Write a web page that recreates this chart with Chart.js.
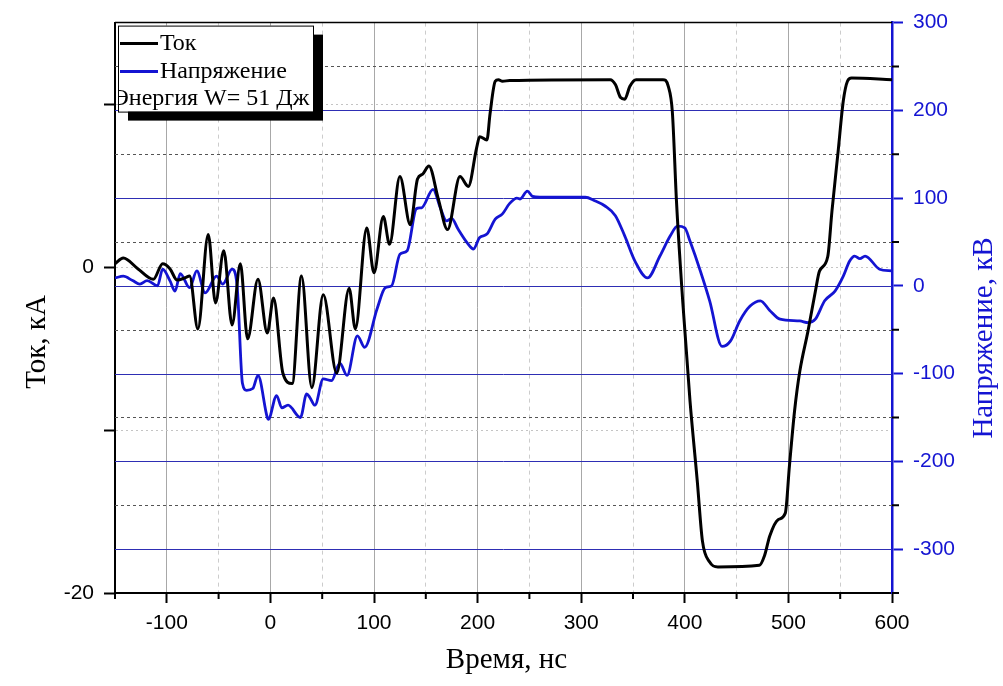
<!DOCTYPE html>
<html>
<head>
<meta charset="utf-8">
<script src="https://cdn.jsdelivr.net/npm/chart.js@4/dist/chart.umd.min.js"></script>
<style>
  html, body { margin: 0; padding: 0; background: #fff; }
  #wrap { width: 1003px; height: 686px; }
</style>
</head>
<body>
<div id="wrap"><canvas id="myChart" width="1003" height="686"></canvas></div>
<script>
// time, ns
const timeCurrent = [-150,-142,-128,-113,-104,-97,-90,-82,-78,-70,-60,-53,-45,-37,-29,-22,-12,-3,3,12,21,30,40,51,64,76,82,93,100,109,115,125,135,142,147,153,162,171,183,191,199,202,209,212,217,220,224,231,328,333,338,342,347,353,379,384,388,392,398,405,412,417,424,432,472,477,482,490,497,501,506,511,519,526,530,538,542,548,553,557,561,600];
// current, kA
const current = [0.2,0.55,-0.1,-0.75,0.2,-0.1,-0.8,-0.65,-0.55,-3.8,2.0,-2.2,1.0,-3.55,0.2,-4.4,-0.75,-4.05,-1.9,-6.5,-7.15,-0.55,-7.4,-1.7,-6.5,-1.3,-3.8,2.4,-0.35,3.1,1.4,5.55,2.6,5.4,5.7,6.2,4.2,2.3,5.55,4.95,7.3,8.0,7.8,9.4,11.4,11.5,11.4,11.45,11.5,11.2,10.4,10.3,11.1,11.5,11.5,11.1,9.5,4.0,-2.1,-8.2,-13.1,-16.8,-18.1,-18.4,-18.3,-17.7,-16.5,-15.5,-15.1,-12.2,-8.8,-6.4,-3.9,-1.5,-0.25,0.65,3.4,7.1,10.2,11.4,11.6,11.5];

const timeVoltage = [-150,-142,-133,-126,-119,-109,-104,-97,-92,-87,-78,-71,-63,-52,-46,-37,-32,-27,-23,-17,-12,-3,-2,6,11,17,29,35,38,43,51,59,67,74,84,91,103,111,117,125,132,141,146,157,164,170,175,181,190,196,202,209,217,224,231,238,241,248,253,260,304,313,323,333,342,352,364,376,386,393,400,405,415,424,436,444,453,463,473,482,492,511,519,526,535,545,553,559,564,569,574,588,600];
// voltage, kV
const voltage = [9,11,6,2,6,0,19,6,-6,14,-2,17,-8,11,2,19,-2,-111,-119,-117,-102,-150,-152,-125,-139,-136,-150,-123,-127,-136,-106,-108,-88,-102,-57,-70,-26,-2,0,36,40,88,89,110,89,74,77,65,49,42,55,59,76,82,94,100,99,108,102,101,101,97,91,80,57,28,9,34,57,68,66,51,17,-17,-69,-63,-40,-23,-17,-28,-38,-40,-42,-38,-17,-6,11,28,34,31,34,19,17];

const xTicks = [-150,-100,-50,0,50,100,150,200,250,300,350,400,450,500,550,600];
const xLabels = [-100,0,100,200,300,400,500,600];
const leftTicks = [-20,-10,0,10];
const leftLabels = [0,-20];
const rightTicks = [-350,-300,-250,-200,-150,-100,-50,0,50,100,150,200,250,300];
const rightLabels = [-300,-200,-100,0,100,200,300];

const seriesNames = ['Ток', 'Напряжение'];
const energyText = 'Энергия W= 51 Дж';
const titleX = 'Время, нс';
const titleLeft = 'Ток, кА';
const titleRight = 'Напряжение, кВ';

const BLUE = '#1414d2';
const tickFont = { family: '"Liberation Sans", Arial, sans-serif', size: 21 };
const serif = '"Liberation Serif", "Times New Roman", serif';

function toPoints(xs, ys) {
    return xs.map((x, i) => ({ x: x, y: ys[i] }));
}

function setTicks(list) {
    return scale => { scale.ticks = list.map(v => ({ value: v })); };
}

function isMajor(c) {
    return !c.tick || c.tick.value % 100 === 0;
}

const extras = {
    id: 'extras',
    beforeDatasetsDraw(chart) {
        // grid of the voltage axis: solid at hundreds, dashed in between
        const { ctx, chartArea: a, scales } = chart;
        ctx.save();
        ctx.lineWidth = 1;
        rightTicks.forEach(v => {
            if (v === 300 || v === -350) return;
            const y = Math.round(scales.y1.getPixelForValue(v)) + 0.5;
            const major = v % 100 === 0;
            ctx.strokeStyle = major ? '#2e2eb4' : '#555555';
            ctx.setLineDash(major ? [] : [3, 3]);
            ctx.beginPath();
            ctx.moveTo(a.left, y);
            ctx.lineTo(a.right, y);
            ctx.stroke();
        });
        ctx.restore();
    },
    afterDraw(chart) {
        const { ctx, chartArea: a, scales } = chart;
        ctx.save();
        // top frame
        ctx.strokeStyle = '#000';
        ctx.lineWidth = 1.5;
        ctx.beginPath();
        ctx.moveTo(a.left, a.top);
        ctx.lineTo(a.right, a.top);
        ctx.stroke();

        // minor ticks
        ctx.lineWidth = 2;
        ctx.beginPath();
        xTicks.filter(v => v % 100 !== 0).forEach(v => {
            const px = scales.x.getPixelForValue(v);
            ctx.moveTo(px, a.bottom);
            ctx.lineTo(px, a.bottom + 6);
        });
        rightTicks.filter(v => v % 100 !== 0).forEach(v => {
            const py = scales.y1.getPixelForValue(v);
            ctx.moveTo(a.right, py);
            ctx.lineTo(a.right + 7, py);
        });
        ctx.stroke();

        // legend box with shadow
        const bx = a.left + 3, by = a.top + 3, bw = 195, bh = 86;
        ctx.fillStyle = '#000';
        ctx.fillRect(bx + 10, by + 9, bw, bh);
        ctx.fillStyle = '#fff';
        ctx.fillRect(bx, by, bw, bh);
        ctx.strokeStyle = '#000';
        ctx.lineWidth = 1;
        ctx.strokeRect(bx + 0.5, by + 0.5, bw, bh);

        const rows = [by + 18, by + 46, by + 73];
        ctx.lineWidth = 3;
        [['#000', rows[0]], [BLUE, rows[1]]].forEach(([c, y]) => {
            ctx.strokeStyle = c;
            ctx.beginPath();
            ctx.moveTo(bx + 2, y);
            ctx.lineTo(bx + 40, y);
            ctx.stroke();
        });
        ctx.fillStyle = '#000';
        ctx.font = '24px ' + serif;
        ctx.textBaseline = 'middle';
        ctx.textAlign = 'left';
        ctx.fillText(seriesNames[0], bx + 42, rows[0]);
        ctx.fillText(seriesNames[1], bx + 42, rows[1]);
        ctx.save();
        ctx.beginPath();
        ctx.rect(bx + 1, by, bw - 1, bh);
        ctx.clip();
        ctx.fillText(energyText, bx - 5, rows[2]);
        ctx.restore();

        // axis titles
        ctx.font = '29px ' + serif;
        ctx.textAlign = 'center';
        ctx.fillStyle = '#000';
        ctx.fillText(titleX, (a.left + a.right) / 2 + 3, 660);
        ctx.save();
        ctx.translate(37, 342);
        ctx.rotate(-Math.PI / 2);
        ctx.fillText(titleLeft, 0, 0);
        ctx.restore();
        ctx.save();
        ctx.fillStyle = BLUE;
        ctx.translate(984, 338);
        ctx.rotate(-Math.PI / 2);
        ctx.fillText(titleRight, 0, 0);
        ctx.restore();
        ctx.restore();
    }
};

const ctx = document.getElementById('myChart').getContext('2d');
new Chart(ctx, {
    type: 'line',
    data: {
        datasets: [{
            label: seriesNames[0],
            data: toPoints(timeCurrent, current),
            borderColor: '#000',
            borderWidth: 3,
            pointRadius: 0,
            cubicInterpolationMode: 'monotone',
            yAxisID: 'y'
        }, {
            label: seriesNames[1],
            data: toPoints(timeVoltage, voltage),
            borderColor: BLUE,
            borderWidth: 2.8,
            pointRadius: 0,
            cubicInterpolationMode: 'monotone',
            yAxisID: 'y1'
        }]
    },
    options: {
        responsive: false,
        animation: false,
        layout: { padding: { top: 21, left: 0, right: 0, bottom: 0 } },
        plugins: { legend: { display: false }, tooltip: { enabled: false } },
        scales: {
            x: {
                type: 'linear',
                min: -150,
                max: 600,
                afterBuildTicks: setTicks(xTicks),
                afterFit: s => { s.height = 93; },
                ticks: {
                    autoSkip: false,
                    maxRotation: 0,
                    padding: 8,
                    color: '#000',
                    font: tickFont,
                    callback: v => xLabels.includes(v) ? String(v) : ''
                },
                grid: {
                    color: c => isMajor(c) ? '#a8a8a8' : '#cccccc',
                    lineWidth: 1,
                    tickLength: 10,
                    tickWidth: 2,
                    tickColor: c => isMajor(c) ? '#000' : 'rgba(0,0,0,0)'
                },
                border: { color: '#000', width: 2, dash: c => isMajor(c) ? [] : [4, 4] }
            },
            y: {
                position: 'left',
                min: -20,
                max: 15,
                afterBuildTicks: setTicks(leftTicks),
                afterFit: s => { s.width = 115; },
                ticks: {
                    padding: 10,
                    color: '#000',
                    font: tickFont,
                    callback: v => leftLabels.includes(v) ? String(v) : ''
                },
                grid: {
                    color: '#c4c4c4',
                    lineWidth: 1,
                    tickLength: 11,
                    tickWidth: 2,
                    tickColor: '#000'
                },
                border: { color: '#000', width: 2, dash: [2, 3] }
            },
            y1: {
                position: 'right',
                min: -350,
                max: 300,
                afterBuildTicks: setTicks(rightTicks),
                afterFit: s => { s.width = 111; },
                ticks: {
                    autoSkip: false,
                    padding: 10,
                    color: BLUE,
                    font: tickFont,
                    callback: v => rightLabels.includes(v) ? String(v) : ''
                },
                grid: {
                    drawOnChartArea: false,
                    tickLength: 11,
                    tickWidth: 2,
                    tickColor: c => isMajor(c) ? BLUE : 'rgba(0,0,0,0)'
                },
                border: { color: BLUE, width: 2.5 }
            }
        }
    },
    plugins: [extras]
});
</script>
</body>
</html>
